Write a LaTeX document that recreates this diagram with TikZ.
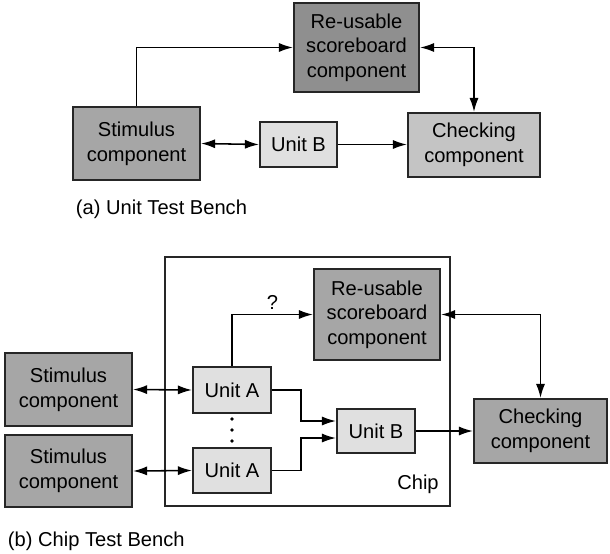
\documentclass[tikz,border=0pt]{standalone}
\usepackage{fontspec}
\setmainfont{Liberation Sans}
\usepackage{xcolor}
\usetikzlibrary{shapes,arrows,arrows.meta,positioning,calc}

\definecolor{sbgray}{HTML}{8F8F8F}
\definecolor{stimgray}{HTML}{A6A6A6}
\definecolor{checkgray}{HTML}{C4C4C4}
\definecolor{unitgray}{HTML}{E0E0E0}

\begin{document}
\begin{tikzpicture}[
    x=0.025cm, y=-0.025cm,
    font=\fontsize{14.3pt}{17.5pt}\selectfont,
    comp/.style={rectangle, draw=black!85, line width=1.5pt, fill=stimgray, align=center, inner sep=0pt},
    unit/.style={comp, fill=unitgray},
    arrow/.style={->, >={Latex[length=10pt,width=6.5pt]}, line width=1.1pt},
    darrow/.style={arrow, <->}
]
\useasboundingbox (0,0) rectangle (610,553);

% (a) unit test bench
\node[comp, fill=sbgray, minimum width=3.125cm, minimum height=2.225cm] (sbA) at (356.5,47.5) {Re-usable\\scoreboard\\component};
\node[comp, minimum width=3.175cm, minimum height=1.825cm] (stimA) at (136.5,143.5) {Stimulus\\component};
\node[unit, minimum width=1.925cm, minimum height=1.125cm] (unitBa) at (298.5,144.5) {Unit B};
\node[comp, fill=checkgray, minimum width=3.3cm, minimum height=1.6cm] (checkA) at (474,145) {Checking\\component};

\draw[arrow] (stimA.north) |- (sbA.west);
\draw[darrow] (sbA.east) -| (checkA.north);
\draw[darrow] (stimA.east) -- (unitBa.west);
\draw[arrow] (unitBa.east) -- (unitBa.east -| checkA.west);

\node[anchor=west] (capA) at (71,209) {(a) Unit Test Bench};

% (b) chip test bench
\node[rectangle, draw=black!85, line width=1.3pt, minimum width=7.125cm, minimum height=6.225cm] (chip) at (307.5,381.5) {};
\node (chiplbl) at (418,484) {Chip};

\node[comp, minimum width=3.15cm, minimum height=2.275cm] (sbB) at (377,314.5) {Re-usable\\scoreboard\\component};
\node[comp, minimum width=3.175cm, minimum height=1.825cm] (stim1) at (68.5,389.5) {Stimulus\\component};
\node[comp, minimum width=3.175cm, minimum height=1.8cm] (stim2) at (68.5,471) {Stimulus\\component};
\node[unit, minimum width=1.95cm, minimum height=1.15cm] (unitA1) at (232,390) {Unit A};
\node[unit, minimum width=1.95cm, minimum height=1.125cm] (unitA2) at (232,470.5) {Unit A};
\node[unit, minimum width=1.95cm, minimum height=1.1cm] (unitBb) at (376,431) {Unit B};
\node[comp, minimum width=3.325cm, minimum height=1.6cm] (checkB) at (540.5,431) {Checking\\component};

\draw[darrow] (stim1.east) -- (unitA1.west);
\draw[darrow] (stim2.east) -- (unitA2.west);
\draw[arrow] (unitA1.north) |- node[pos=0.75, above] {?} (sbB.west);
\draw[arrow] (unitA1.east) -- ++(29,0) |- ([yshift=0.25cm]unitBb.west);
\draw[arrow] (unitA2.east) -- ++(29,0) |- ([yshift=-0.175cm]unitBb.west);
\draw[arrow] (unitBb.east) -- (checkB.west);
\draw[darrow] (sbB.east) -| (checkB.north);

% dots between the units
\foreach \y in {419,430,441}
    \fill (232,\y) circle (1.3pt);

\node[anchor=west] (capB) at (3,541) {(b) Chip Test Bench};

\end{tikzpicture}
\end{document}
